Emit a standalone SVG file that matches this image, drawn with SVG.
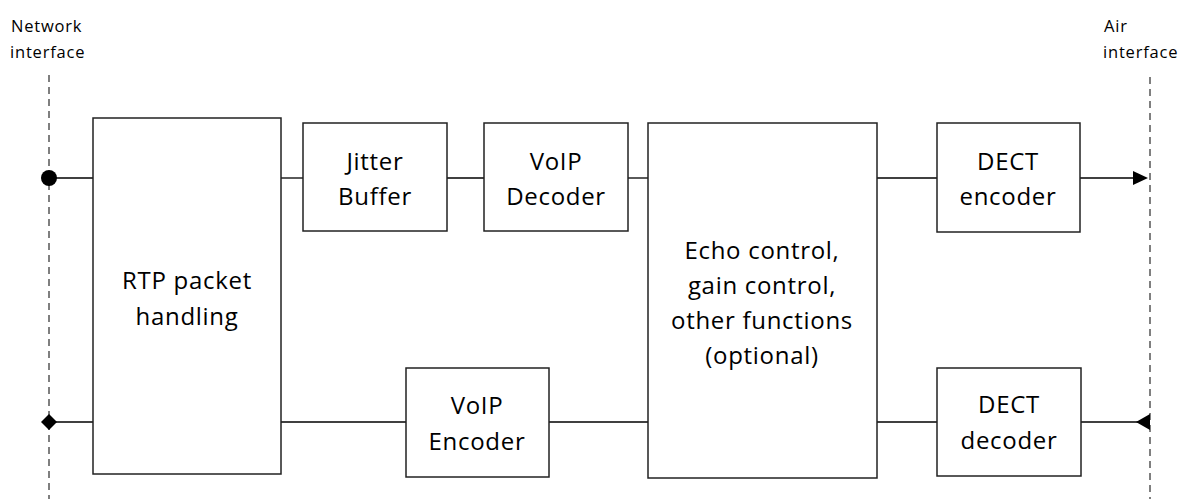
<svg xmlns="http://www.w3.org/2000/svg" width="1183" height="499" viewBox="0 0 1183 499">
<style>
.box{fill:#fff;stroke:#222;stroke-width:1.5}
.lbl{font-family:"Open Sans","Noto Sans",sans-serif;font-size:24px;fill:#000;text-anchor:middle;letter-spacing:0.7px}
.side{font-family:"Open Sans","Noto Sans",sans-serif;font-size:16.5px;fill:#000;letter-spacing:0.8px}
.dash{stroke:#555;stroke-width:1.5;stroke-dasharray:7,5;fill:none}
.wire{stroke:#000;stroke-width:1.3;fill:none}
</style>
<rect width="1183" height="499" fill="#fff"/>
<g id="interfaces">
<line class="dash" x1="49" y1="75" x2="49" y2="499"/>
<line class="dash" x1="1150" y1="77" x2="1150" y2="499"/>
<text class="side" x="11" y="32">Network</text>
<text class="side" x="10" y="58">interface</text>
<text class="side" x="1104" y="32">Air</text>
<text class="side" x="1103" y="58">interface</text>
</g>
<g id="connectors">
<line class="wire" x1="49" y1="178" x2="93" y2="178"/>
<line class="wire" x1="281" y1="178" x2="303" y2="178"/>
<line class="wire" x1="447" y1="178" x2="484" y2="178"/>
<line class="wire" x1="628" y1="178" x2="648" y2="178"/>
<line class="wire" x1="877" y1="178" x2="937" y2="178"/>
<line class="wire" x1="1080" y1="178" x2="1135" y2="178"/>
<polygon points="1148,178 1133,171 1133,185" fill="#000"/>
<line class="wire" x1="49" y1="422" x2="93" y2="422"/>
<line class="wire" x1="281" y1="422" x2="406" y2="422"/>
<line class="wire" x1="549" y1="422" x2="648" y2="422"/>
<line class="wire" x1="877" y1="422" x2="937" y2="422"/>
<line class="wire" x1="1081" y1="422" x2="1138" y2="422"/>
<polygon points="1136,422 1150,414 1150,430" fill="#000"/>
<circle cx="49" cy="178" r="8" fill="#000"/>
<polygon points="49,414 57,422 49,430 41,422" fill="#000"/>
</g>
<g id="rtp">
<rect class="box" x="93" y="118" width="188" height="356"/>
<text class="lbl" x="187" y="289">RTP packet</text>
<text class="lbl" x="187" y="325">handling</text>
</g>
<g id="jitter">
<rect class="box" x="303" y="123" width="144" height="108"/>
<text class="lbl" x="375" y="170">Jitter</text>
<text class="lbl" x="375" y="205">Buffer</text>
</g>
<g id="voipdec">
<rect class="box" x="484" y="123" width="144" height="108"/>
<text class="lbl" x="556" y="170">VoIP</text>
<text class="lbl" x="556" y="205">Decoder</text>
</g>
<g id="echo">
<rect class="box" x="648" y="123" width="229" height="355"/>
<text class="lbl" x="762" y="259">Echo control,</text>
<text class="lbl" x="762" y="294">gain control,</text>
<text class="lbl" x="762" y="329">other functions</text>
<text class="lbl" x="762" y="364">(optional)</text>
</g>
<g id="dectenc">
<rect class="box" x="937" y="123" width="143" height="109"/>
<text class="lbl" x="1008" y="170">DECT</text>
<text class="lbl" x="1008" y="205">encoder</text>
</g>
<g id="voipenc">
<rect class="box" x="406" y="368" width="143" height="109"/>
<text class="lbl" x="477" y="414">VoIP</text>
<text class="lbl" x="477" y="450">Encoder</text>
</g>
<g id="dectdec">
<rect class="box" x="937" y="368" width="144" height="108"/>
<text class="lbl" x="1009" y="413">DECT</text>
<text class="lbl" x="1009" y="449">decoder</text>
</g>
</svg>
